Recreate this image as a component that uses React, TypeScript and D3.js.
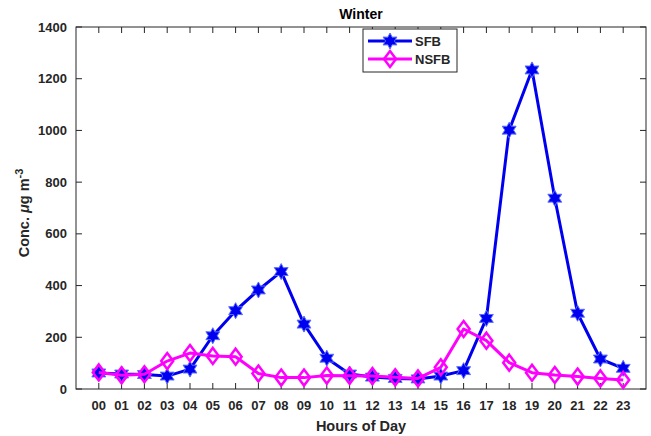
import * as d3 from 'd3';
import { useEffect, useRef } from 'react';

const hours = ['00', '01', '02', '03', '04', '05', '06', '07', '08', '09', '10', '11',
    '12', '13', '14', '15', '16', '17', '18', '19', '20', '21', '22', '23'];
const sfb = [62, 58, 56, 50, 77, 206, 303, 383, 454, 251, 119, 58,
    46, 41, 39, 50, 71, 273, 1001, 1234, 738, 293, 116, 80];
const nsfb = [64, 53, 57, 108, 139, 128, 125, 60, 44, 44, 52, 51,
    50, 45, 41, 84, 232, 187, 102, 63, 54, 48, 41, 35];
const yTicks = [0, 200, 400, 600, 800, 1000, 1200, 1400];

const BLUE = '#0000f0';
const MAGENTA = '#ff00ff';
const AXIS = '#262626';
const FONT = '"Liberation Sans", Arial, Helvetica, sans-serif';

// six pointed star, like matlab's 'h' marker
function hexagram(r: number) {
    const pts: [number, number][] = [];
    for (let i = 0; i < 12; i++) {
        const a = -Math.PI / 2 + i * Math.PI / 6;
        const rr = i % 2 === 0 ? r : r * 0.55;
        pts.push([rr * Math.cos(a), rr * Math.sin(a)]);
    }
    return d3.line()(pts) + 'Z';
}

export default function App() {
    const ref = useRef<SVGSVGElement>(null);

    const width = 651, height = 436;
    const margin = { top: 27, right: 5, bottom: 47, left: 76 };
    const innerW = width - margin.left - margin.right;
    const innerH = height - margin.top - margin.bottom;

    useEffect(() => {
        drawChart();
    }, []);

    function drawChart() {
        const root = d3.select(ref.current);
        root.selectAll('*').remove();

        const svg = root.append('g')
            .attr('transform', 'translate(' + margin.left + ',' + margin.top + ')');

        const x = d3.scaleLinear().domain([-1, 24]).range([0, innerW]);
        const y = d3.scaleLinear().domain([0, 1400]).range([innerH, 0]);
        const tickLen = 6;

        // box
        svg.append('rect')
            .attr('width', innerW).attr('height', innerH)
            .attr('fill', 'none').attr('stroke', AXIS).attr('stroke-width', 1);

        // x ticks, bottom and top, pointing in
        const xt = svg.append('g');
        hours.forEach((h, i) => {
            xt.append('line').attr('x1', x(i)).attr('x2', x(i))
                .attr('y1', innerH).attr('y2', innerH - tickLen).attr('stroke', AXIS);
            xt.append('line').attr('x1', x(i)).attr('x2', x(i))
                .attr('y1', 0).attr('y2', tickLen).attr('stroke', AXIS);
            xt.append('text').attr('x', x(i)).attr('y', innerH + 21)
                .attr('text-anchor', 'middle').attr('font-family', FONT)
                .attr('font-weight', 'bold').attr('font-size', 13).attr('fill', AXIS)
                .text(h);
        });

        // y ticks, left and right
        const yt = svg.append('g');
        yTicks.forEach(v => {
            yt.append('line').attr('x1', 0).attr('x2', tickLen)
                .attr('y1', y(v)).attr('y2', y(v)).attr('stroke', AXIS);
            yt.append('line').attr('x1', innerW).attr('x2', innerW - tickLen)
                .attr('y1', y(v)).attr('y2', y(v)).attr('stroke', AXIS);
            yt.append('text').attr('x', -9).attr('y', y(v) + 4.5)
                .attr('text-anchor', 'end').attr('font-family', FONT)
                .attr('font-weight', 'bold').attr('font-size', 13).attr('fill', AXIS)
                .text(v);
        });

        const line = d3.line<number>()
            .x((d, i) => x(i))
            .y(d => y(d));

        // SFB
        svg.append('path').datum(sfb).attr('d', line)
            .attr('fill', 'none').attr('stroke', BLUE).attr('stroke-width', 3)
            .attr('stroke-linejoin', 'round');
        svg.selectAll('.sfb').data(sfb).enter().append('path')
            .attr('d', hexagram(8))
            .attr('transform', (d, i) => 'translate(' + x(i) + ',' + y(d) + ')')
            .attr('fill', BLUE).attr('stroke', '#5a6cff').attr('stroke-width', 1);

        // NSFB
        svg.append('path').datum(nsfb).attr('d', line)
            .attr('fill', 'none').attr('stroke', MAGENTA).attr('stroke-width', 3)
            .attr('stroke-linejoin', 'round');
        svg.selectAll('.nsfb').data(nsfb).enter().append('path')
            .attr('d', 'M0,-8L6,0L0,8L-6,0Z')
            .attr('transform', (d, i) => 'translate(' + x(i) + ',' + y(d) + ')')
            .attr('fill', 'none').attr('stroke', MAGENTA).attr('stroke-width', 2.5);

        // legend
        const lg = svg.append('g').attr('transform', 'translate(' + (363 - margin.left) + ',' + (29 - margin.top) + ')');
        lg.append('rect').attr('width', 94).attr('height', 43)
            .attr('fill', 'white').attr('stroke', AXIS).attr('stroke-width', 1);
        lg.append('line').attr('x1', 5).attr('x2', 49).attr('y1', 12).attr('y2', 12)
            .attr('stroke', BLUE).attr('stroke-width', 3);
        lg.append('path').attr('d', hexagram(8)).attr('transform', 'translate(27,12)')
            .attr('fill', BLUE).attr('stroke', '#5a6cff');
        lg.append('text').attr('x', 52).attr('y', 17).attr('font-family', FONT)
            .attr('font-weight', 'bold').attr('font-size', 13).attr('fill', AXIS).text('SFB');
        lg.append('line').attr('x1', 5).attr('x2', 49).attr('y1', 30).attr('y2', 30)
            .attr('stroke', MAGENTA).attr('stroke-width', 3);
        lg.append('path').attr('d', 'M0,-8L6,0L0,8L-6,0Z').attr('transform', 'translate(27,30)')
            .attr('fill', 'none').attr('stroke', MAGENTA).attr('stroke-width', 2.5);
        lg.append('text').attr('x', 52).attr('y', 35).attr('font-family', FONT)
            .attr('font-weight', 'bold').attr('font-size', 13).attr('fill', AXIS).text('NSFB');

        // title
        svg.append('text').attr('x', innerW / 2).attr('y', -8)
            .attr('text-anchor', 'middle').attr('font-family', FONT)
            .attr('font-weight', 'bold').attr('font-size', 14).attr('fill', 'black')
            .text('Winter');

        // x label
        svg.append('text').attr('x', innerW / 2).attr('y', innerH + 42)
            .attr('text-anchor', 'middle').attr('font-family', FONT)
            .attr('font-weight', 'bold').attr('font-size', 14.5).attr('fill', AXIS)
            .text('Hours of Day');

        // y label
        const yl = svg.append('text')
            .attr('transform', 'translate(' + (-47) + ',' + (innerH / 2 + 5) + ')rotate(-90)')
            .attr('text-anchor', 'middle').attr('font-family', FONT)
            .attr('font-weight', 'bold').attr('font-size', 14.5).attr('fill', AXIS);
        yl.append('tspan').text('Conc. ');
        yl.append('tspan').attr('font-style', 'italic').text('μ');
        yl.append('tspan').text('g m');
        yl.append('tspan').attr('dy', -6).attr('font-size', 11).text('-3');
    }

    return (
        <svg ref={ref} width={width} height={height}
            style={{ position: 'absolute', left: 0, top: 0, background: 'white' }} />
    );
}
